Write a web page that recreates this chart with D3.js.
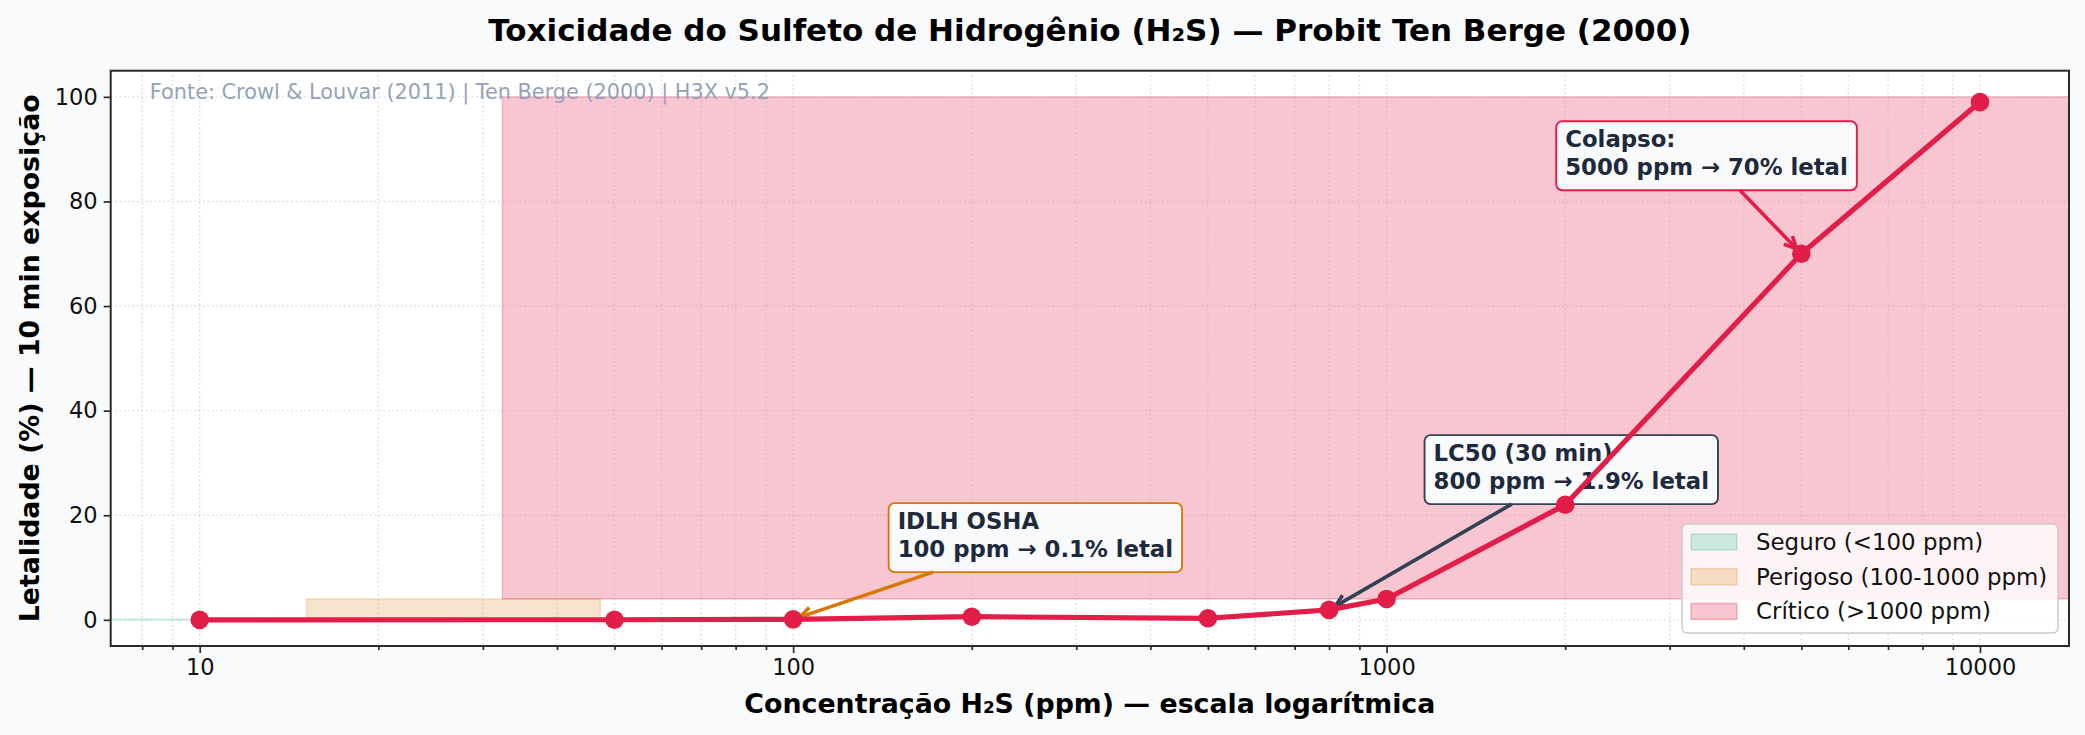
<!DOCTYPE html>
<html><head><meta charset="utf-8">
<script src="https://cdn.jsdelivr.net/npm/d3@7"></script>
<style>
body{margin:0;background:#f8fafc;}
svg{display:block;font-family:"DejaVu Sans",sans-serif;}
</style>
</head><body>
<svg id="chart" width="2085" height="735"></svg>
<script>
// ---- data ----
const concentrations = [10, 50, 100, 200, 500, 800, 1000, 2000, 5000, 10000];
const lethality = [0, 0.02, 0.1, 0.6, 0.3, 1.9, 4, 22, 70, 99];
const xTickValues = [10, 100, 1000, 10000];
const yTickValues = [0, 20, 40, 60, 80, 100];
const zoneNames = ["Seguro (<100 ppm)", "Perigoso (100-1000 ppm)", "Crítico (>1000 ppm)"];
const zoneLow = [0, 0.1, 4];
const zoneHigh = [0.1, 4, 100];
const zoneStartFrac = [0, 0.1, 0.2];
const zoneEndFrac = [0.1, 0.25, 1.0];
const zoneColors = ["#10b981", "#d97706", "#e11d48"];
const annotationLines = [["IDLH OSHA", "100 ppm → 0.1% letal"], ["LC50 (30 min)", "800 ppm → 1.9% letal"], ["Colapso:", "5000 ppm → 70% letal"]];
const annotationPoint = [[100, 0.1], [800, 1.9], [5000, 70]];
const annotationTextPos = [[150, 12], [1200, 25], [2000, 85]];
const annotationColors = ["#d97706", "#334155", "#e11d48"];
const titleText = "Toxicidade do Sulfeto de Hidrogênio (H₂S) — Probit Ten Berge (2000)";
const xLabelText = "Concentração H₂S (ppm) — escala logarítmica";
const yLabelText = "Letalidade (%) — 10 min exposição";
const sourceText = "Fonte: Crowl & Louvar (2011) | Ten Berge (2000) | H3X v5.2";

// ---- layout ----
const L = 110.7, R = 2069, T = 70.7, B = 646;
const svg = d3.select("#chart");
svg.append("rect").attr("width", 2085).attr("height", 735).attr("fill", "#f8fafc");

const x = d3.scaleLog().domain([Math.pow(10, 0.85), Math.pow(10, 4.15)]).range([L, R]);
const y = d3.scaleLinear().domain([-5, 105]).range([B, T]);
const fx = d3.scaleLinear().domain([0, 1]).range([L, R]);

svg.append("defs").append("clipPath").attr("id", "clip")
  .append("rect").attr("x", L).attr("y", T).attr("width", R - L).attr("height", B - T);

svg.append("rect").attr("x", L).attr("y", T).attr("width", R - L).attr("height", B - T).attr("fill", "#ffffff");

const plot = svg.append("g").attr("clip-path", "url(#clip)");

// zones
zoneNames.forEach((n, i) => {
  plot.append("rect")
    .attr("x", fx(zoneStartFrac[i])).attr("width", fx(zoneEndFrac[i]) - fx(zoneStartFrac[i]))
    .attr("y", y(zoneHigh[i])).attr("height", Math.max(0.5, y(zoneLow[i]) - y(zoneHigh[i])))
    .attr("fill", zoneColors[i]).attr("fill-opacity", i === 2 ? 0.25 : 0.2)
    .attr("stroke", zoneColors[i]).attr("stroke-opacity", i === 2 ? 0.25 : 0.2).attr("stroke-width", 1.5);
});

// grid
const [d0, d1] = x.domain();
const minorTicks = [];
for (let e = 0; e <= 4; e++) for (let m = 1; m <= 9; m++) {
  const v = m * Math.pow(10, e);
  if (v >= d0 && v <= d1) minorTicks.push(v);
}
const gridG = plot.append("g");
minorTicks.forEach(v => {
  gridG.append("line").attr("x1", x(v)).attr("x2", x(v)).attr("y1", T).attr("y2", B)
    .attr("stroke", "#b0b0b0").attr("stroke-opacity", 0.45).attr("stroke-width", 1.4)
    .attr("stroke-dasharray", "1.6,2.8");
});
yTickValues.forEach(v => {
  gridG.append("line").attr("x1", L).attr("x2", R).attr("y1", y(v)).attr("y2", y(v))
    .attr("stroke", "#b0b0b0").attr("stroke-opacity", 0.45).attr("stroke-width", 1.4)
    .attr("stroke-dasharray", "1.6,2.8");
});

// source text
svg.append("text").attr("x", fx(0.02)).attr("y", 98.5).attr("font-size", 20.8)
  .attr("fill", "#94a3b8").text(sourceText);

// annotations
const annG = svg.append("g");
annotationLines.forEach((lines, i) => {
  const tx = x(annotationTextPos[i][0]);
  const lastBase = y(annotationTextPos[i][1]);
  const lineGap = 28;
  const firstBase = lastBase - lineGap * (lines.length - 1);
  const g = annG.append("g");
  const box = g.append("rect");
  let maxW = 0;
  lines.forEach((ln, k) => {
    const t = g.append("text").attr("x", tx).attr("y", firstBase + k * lineGap)
      .attr("font-size", 22.8).attr("font-weight", "bold").attr("fill", "#1e293b").text(ln);
    maxW = Math.max(maxW, t.node().getComputedTextLength());
  });
  const bx0 = tx - 9, bx1 = tx + maxW + 9, by0 = firstBase - 26, by1 = lastBase + 15;
  box.attr("x", bx0).attr("y", by0).attr("width", bx1 - bx0).attr("height", by1 - by0)
    .attr("rx", 6).attr("fill", "#f8fafc").attr("stroke", annotationColors[i]).attr("stroke-width", 1.9);
  const cx = (bx0 + bx1) / 2, cy = (by0 + by1) / 2;
  const px = x(annotationPoint[i][0]), py = y(annotationPoint[i][1]);
  const dx = px - cx, dy = py - cy;
  let tEdge = 1;
  if (dx !== 0) tEdge = Math.min(tEdge, Math.abs(((dx > 0 ? bx1 : bx0) - cx) / dx));
  if (dy !== 0) tEdge = Math.min(tEdge, Math.abs(((dy > 0 ? by1 : by0) - cy) / dy));
  const sx = cx + dx * tEdge, sy = cy + dy * tEdge;
  const len = Math.hypot(px - sx, py - sy);
  const ux = (px - sx) / len, uy = (py - sy) / len;
  const ex = px - ux * 7, ey = py - uy * 7;
  const hl = 12, hw = 6;
  annG.append("line").attr("x1", sx).attr("y1", sy).attr("x2", ex).attr("y2", ey)
    .attr("stroke", annotationColors[i]).attr("stroke-width", 3.6);
  annG.append("path")
    .attr("d", `M${ex - ux * hl - uy * hw},${ey - uy * hl + ux * hw} L${ex},${ey} L${ex - ux * hl + uy * hw},${ey - uy * hl - ux * hw}`)
    .attr("fill", "none").attr("stroke", annotationColors[i]).attr("stroke-width", 3.6);
});

// line + markers
const pts = concentrations.map((c, i) => [c, lethality[i]]);
const lineGen = d3.line().x(d => x(d[0])).y(d => y(d[1]));
svg.append("path").datum(pts).attr("d", lineGen).attr("fill", "none")
  .attr("stroke", "#e11d48").attr("stroke-width", 5.2).attr("stroke-linejoin", "round");
svg.append("g").selectAll("circle").data(pts).join("circle")
  .attr("cx", d => x(d[0])).attr("cy", d => y(d[1])).attr("r", 9.3).attr("fill", "#e11d48");

// axes
const axisColor = "#2b2b2b";
const xAxis = d3.axisBottom(x).tickValues(xTickValues).tickFormat(d3.format("d")).tickSize(7).tickPadding(6);
const xg = svg.append("g").attr("transform", `translate(0,${B})`).call(xAxis);
const xMinor = d3.axisBottom(x).tickValues(minorTicks.filter(v => !xTickValues.includes(v))).tickFormat("").tickSize(4);
const xmg = svg.append("g").attr("transform", `translate(0,${B})`).call(xMinor);
const yAxis = d3.axisLeft(y).tickValues(yTickValues).tickSize(7).tickPadding(6);
const yg = svg.append("g").attr("transform", `translate(${L},0)`).call(yAxis);
[xg, xmg, yg].forEach(g => {
  g.select(".domain").remove();
  g.selectAll(".tick line").attr("stroke", axisColor).attr("stroke-width", 1.7);
  g.selectAll(".tick text").attr("font-size", 22.5).attr("fill", "#111")
    .attr("font-family", "DejaVu Sans");
});
svg.append("rect").attr("x", L).attr("y", T).attr("width", R - L).attr("height", B - T)
  .attr("fill", "none").attr("stroke", axisColor).attr("stroke-width", 2);

// labels
svg.append("text").attr("x", (L + R) / 2).attr("y", 41).attr("text-anchor", "middle")
  .attr("font-size", 31).attr("font-weight", "bold").attr("fill", "#000").text(titleText);
svg.append("text").attr("x", (L + R) / 2).attr("y", 713).attr("text-anchor", "middle")
  .attr("font-size", 26.8).attr("font-weight", "bold").attr("fill", "#000").text(xLabelText);
svg.append("text").attr("transform", `translate(39,${(T + B) / 2}) rotate(-90)`).attr("text-anchor", "middle")
  .attr("font-size", 26.8).attr("font-weight", "bold").attr("fill", "#000").text(yLabelText);

// legend
const lg = svg.append("g");
lg.append("rect").attr("x", 1682).attr("y", 524).attr("width", 376).attr("height", 109).attr("rx", 5)
  .attr("fill", "#ffffff").attr("fill-opacity", 0.8).attr("stroke", "#cccccc").attr("stroke-width", 1.5);
zoneNames.forEach((n, i) => {
  const cy = 542 + i * 34.7;
  lg.append("rect").attr("x", 1691).attr("y", cy - 8).attr("width", 45.8).attr("height", 16)
    .attr("fill", zoneColors[i]).attr("fill-opacity", i === 2 ? 0.25 : 0.2)
    .attr("stroke", zoneColors[i]).attr("stroke-opacity", i === 2 ? 0.3 : 0.25).attr("stroke-width", 1.5);
  lg.append("text").attr("x", 1756).attr("y", cy + 8).attr("font-size", 22.9).attr("fill", "#111").text(n);
});
</script>
</body></html>
